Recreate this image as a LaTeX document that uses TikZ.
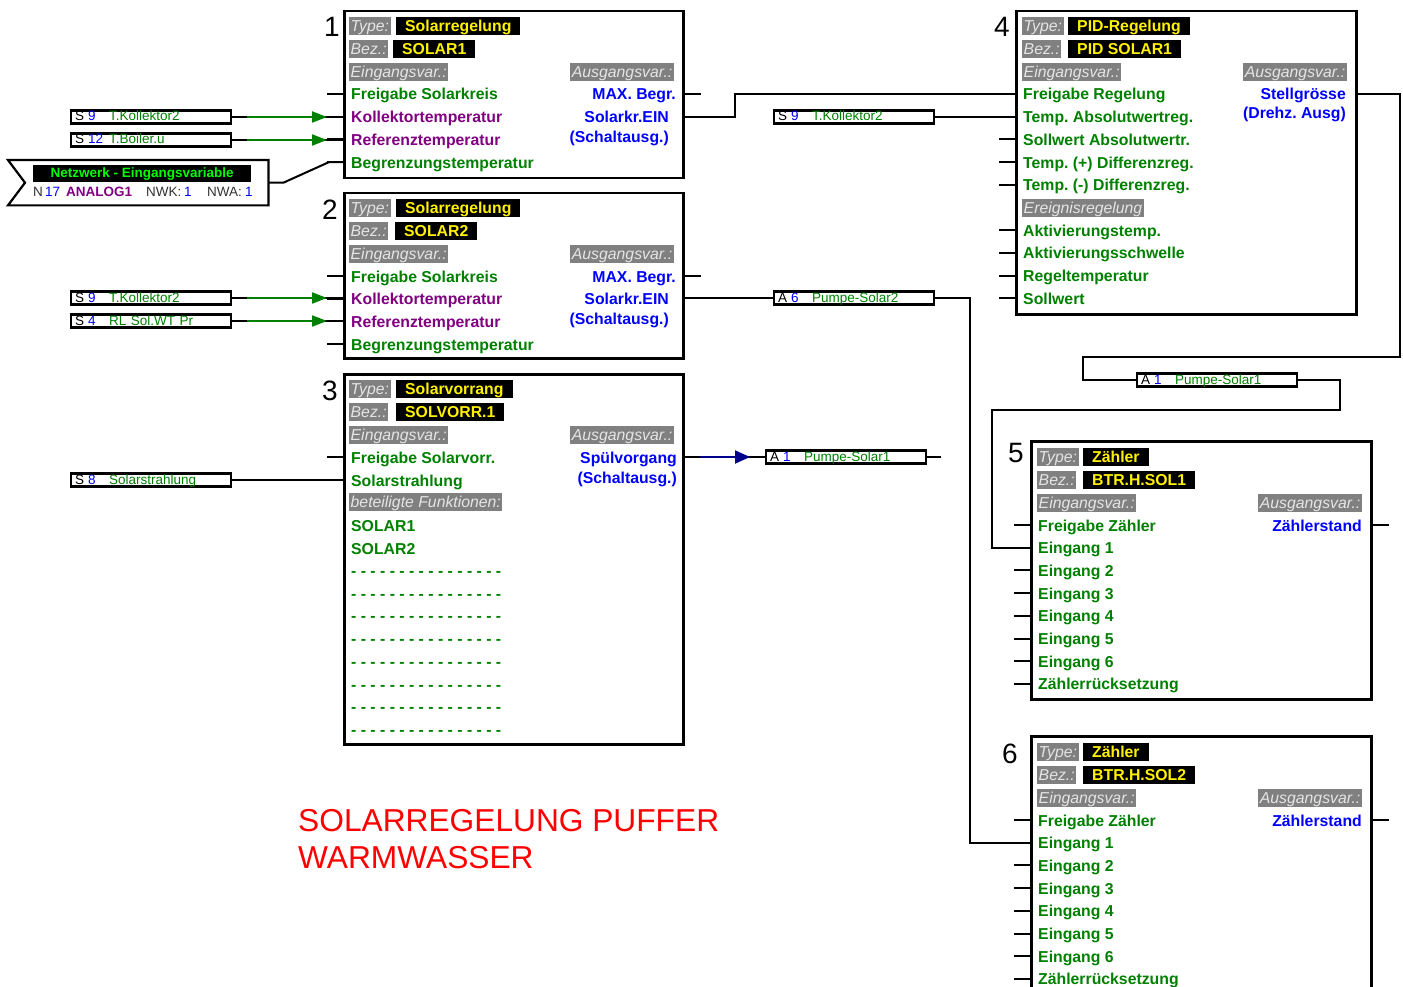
\documentclass[tikz,border=0pt]{standalone}
\usepackage{fontspec}
\setmainfont{Liberation Sans}
\usetikzlibrary{arrows.meta}
\frenchspacing

\definecolor{tgreen}{RGB}{0,128,0}
\definecolor{tpurple}{RGB}{128,0,128}
\definecolor{tblue}{RGB}{0,0,255}
\definecolor{tgray}{RGB}{128,128,128}
\definecolor{tlime}{RGB}{0,255,0}
\definecolor{tnavy}{RGB}{0,0,140}

\newcommand{\bigfont}{\fontsize{15.8}{16}\selectfont}
\newcommand{\smallfont}{\fontsize{13.5}{14}\selectfont}
% sensor / output box text: letter, number, name
\newcommand{\iobox}[3]{\makebox[13pt][l]{#1}\makebox[21pt][l]{\textcolor{tblue}{#2}}\textcolor{tgreen}{#3}}

\tikzset{
  wire/.style={line width=2pt},
  garrow/.style={line width=2pt, tgreen, -{Triangle[length=15pt,width=11pt]}},
  narrow/.style={line width=2pt, tnavy, -{Triangle[length=15pt,width=13pt]}},
  blockbox/.style={draw, line width=2.5pt, anchor=north west, minimum width=339pt, inner sep=0pt},
  gbox/.style={fill=tgray, text=white!90!black, font=\bigfont\itshape, inner xsep=1.5pt, inner ysep=0pt, text height=14.5pt, text depth=3.5pt, anchor=west},
  ybox/.style={fill=black, text=yellow, font=\bigfont\bfseries, inner xsep=9pt, inner ysep=0pt, text height=14.5pt, text depth=3.5pt, anchor=west},
  inp/.style={text=tgreen, font=\bigfont\bfseries, inner sep=0pt, text height=12pt, text depth=0pt, anchor=west},
  outp/.style={inp, text=tblue, anchor=east},
  blknum/.style={font=\fontsize{28}{28}\selectfont, inner sep=0pt, anchor=base east},
  sensor/.style={draw, line width=2.2pt, fill=white, text width=152pt, inner xsep=4pt, inner ysep=0pt, text height=10.5pt, text depth=2.5pt, align=left, anchor=west, font=\smallfont},
}

\begin{document}
\begin{tikzpicture}[x=1pt, y=-1pt]
\useasboundingbox (0,0) rectangle (1403,987);

% Block 1: Solarregelung SOLAR1
\node[blockbox, minimum height=167pt] (blk1) at (343,10) {};
\node[blknum] (n1) at (340,37) {1};
\node[gbox] (ty1) at (349,26) {Type:};
\node[ybox] (tv1) at (396,26) {Solarregelung};
\node[gbox] (bz1) at (349,49) {Bez.:};
\node[ybox] (bv1) at (393,49) {SOLAR1};
\node[gbox] (ei1) at (349,72) {Eingangsvar.:};
\node[gbox, anchor=east] (au1) at (674,72) {Ausgangsvar.:};
\foreach \t/\c [count=\i] in {Freigabe Solarkreis/tgreen, Kollektortemperatur/tpurple, Referenztemperatur/tpurple, Begrenzungstemperatur/tgreen}
  \node[inp, text=\c] (sa\i) at (351,{94+22.7*(\i-1)}) {\t};
\foreach \i in {1,...,4} \draw[wire] (blk1.west |- sa\i.west) -- ++(-16,0);
\node[outp] (sa5) at (676,94) {MAX. Begr.};
\node[outp] (sa6) at (669,117) {Solarkr.EIN};
\node[outp] (sa7) at (669,137) {(Schaltausg.)};
\draw[wire] (blk1.east |- sa5.east) -- ++(16,0);

% Block 2: Solarregelung SOLAR2
\node[blockbox, minimum height=165pt] (blk2) at (343,192) {};
\node[blknum] (n2) at (338,220) {2};
\node[gbox] (ty2) at (349,208) {Type:};
\node[ybox] (tv2) at (396,208) {Solarregelung};
\node[gbox] (bz2) at (349,231) {Bez.:};
\node[ybox] (bv2) at (395,231) {SOLAR2};
\node[gbox] (ei2) at (349,254) {Eingangsvar.:};
\node[gbox, anchor=east] (au2) at (674,254) {Ausgangsvar.:};
\foreach \t/\c [count=\i] in {Freigabe Solarkreis/tgreen, Kollektortemperatur/tpurple, Referenztemperatur/tpurple, Begrenzungstemperatur/tgreen}
  \node[inp, text=\c] (sb\i) at (351,{276+22.7*(\i-1)}) {\t};
\foreach \i in {1,...,4} \draw[wire] (blk2.west |- sb\i.west) -- ++(-16,0);
\node[outp] (sb5) at (676,276) {MAX. Begr.};
\node[outp] (sb6) at (669,298) {Solarkr.EIN};
\node[outp] (sb7) at (669,318) {(Schaltausg.)};
\draw[wire] (blk2.east |- sb5.east) -- ++(16,0);

% Block 3: Solarvorrang
\node[blockbox, minimum height=370pt] (blk3) at (343,373) {};
\node[blknum] (n3) at (338,400) {3};
\node[gbox] (ty3) at (349,389) {Type:};
\node[ybox] (tv3) at (396,389) {Solarvorrang};
\node[gbox] (bz3) at (349,412) {Bez.:};
\node[ybox] (bv3) at (396,412) {SOLVORR.1};
\node[gbox] (ei3) at (349,435) {Eingangsvar.:};
\node[gbox, anchor=east] (au3) at (674,435) {Ausgangsvar.:};
\node[inp] (sv1) at (351,457) {Freigabe Solarvorr.};
\node[inp] (sv2) at (351,480) {Solarstrahlung};
\node[gbox] (sv3) at (349,502) {beteiligte Funktionen:};
\node[inp] (sv4) at (351,525) {SOLAR1};
\node[inp] (sv5) at (351,548) {SOLAR2};
\foreach \i in {6,...,13}
  \node[inp] (sv\i) at (351,{457+22.7*(\i-1)}) {- - - - - - - - - - - - - - - -};
\draw[wire] (blk3.west |- sv1.west) -- ++(-16,0);
\node[outp] (sv14) at (677,457) {Spülvorgang};
\node[outp] (sv15) at (677,477) {(Schaltausg.)};

% Block 4: PID-Regelung
\node[blockbox, minimum width=340pt, minimum height=303pt] (blk4) at (1015,10) {};
\node[blknum] (n4) at (1010,37) {4};
\node[gbox] (ty4) at (1022,26) {Type:};
\node[ybox] (tv4) at (1068,26) {PID-Regelung};
\node[gbox] (bz4) at (1022,49) {Bez.:};
\node[ybox] (bv4) at (1068,49) {PID SOLAR1};
\node[gbox] (ei4) at (1022,72) {Eingangsvar.:};
\node[gbox, anchor=east] (au4) at (1347,72) {Ausgangsvar.:};
\foreach \t/\i in {Freigabe Regelung/1, Temp. Absolutwertreg./2, Sollwert Absolutwertr./3, Temp. (+) Differenzreg./4, Temp. (-) Differenzreg./5, Aktivierungstemp./7, Aktivierungsschwelle/8, Regeltemperatur/9, Sollwert/10}
  \node[inp] (p\i) at (1023,{94+22.7*(\i-1)}) {\t};
\node[gbox] (p6) at (1022,208) {Ereignisregelung};
\foreach \i in {3,4,5,7,8,9,10} \draw[wire] (blk4.west |- p\i.west) -- ++(-16,0);
\node[outp] (p11) at (1346,94) {Stellgrösse};
\node[outp] (p12) at (1346,113) {(Drehz. Ausg)};

% Block 5: Zaehler BTR.H.SOL1
\node[blockbox, minimum width=340pt, minimum height=258pt] (blk5) at (1030,440) {};
\node[blknum] (n5) at (1024,462) {5};
\node[gbox] (ty5) at (1037,457) {Type:};
\node[ybox] (tv5) at (1083,457) {Zähler};
\node[gbox] (bz5) at (1037,480) {Bez.:};
\node[ybox] (bv5) at (1083,480) {BTR.H.SOL1};
\node[gbox] (ei5) at (1037,503) {Eingangsvar.:};
\node[gbox, anchor=east] (au5) at (1362,503) {Ausgangsvar.:};
\foreach \t [count=\i] in {Freigabe Zähler, Eingang 1, Eingang 2, Eingang 3, Eingang 4, Eingang 5, Eingang 6, Zählerrücksetzung}
  \node[inp] (za\i) at (1038,{525+22.7*(\i-1)}) {\t};
\foreach \i in {1,3,4,5,6,7,8} \draw[wire] (blk5.west |- za\i.west) -- ++(-16,0);
\node[outp] (za9) at (1362,525) {Zählerstand};
\draw[wire] (blk5.east |- za9.east) -- ++(16,0);

% Block 6: Zaehler BTR.H.SOL2
\node[blockbox, minimum width=340pt, minimum height=270pt] (blk6) at (1030,735) {};
\node[blknum] (n6) at (1018,763) {6};
\node[gbox] (ty6) at (1037,752) {Type:};
\node[ybox] (tv6) at (1083,752) {Zähler};
\node[gbox] (bz6) at (1037,775) {Bez.:};
\node[ybox] (bv6) at (1083,775) {BTR.H.SOL2};
\node[gbox] (ei6) at (1037,798) {Eingangsvar.:};
\node[gbox, anchor=east] (au6) at (1362,798) {Ausgangsvar.:};
\foreach \t [count=\i] in {Freigabe Zähler, Eingang 1, Eingang 2, Eingang 3, Eingang 4, Eingang 5, Eingang 6, Zählerrücksetzung}
  \node[inp] (zb\i) at (1038,{820+22.7*(\i-1)}) {\t};
\foreach \i in {1,3,4,5,6,7,8} \draw[wire] (blk6.west |- zb\i.west) -- ++(-16,0);
\node[outp] (zb9) at (1362,820) {Zählerstand};
\draw[wire] (blk6.east |- zb9.east) -- ++(16,0);

% sensors and outputs
\node[sensor] (sk1) at (70,117) {\iobox{S}{9}{T.Kollektor2}};
\node[sensor] (sk2) at (70,140) {\iobox{S}{12}{T.Boiler.u}};
\node[sensor] (sk3) at (773,117) {\iobox{S}{9}{T.Kollektor2}};
\node[sensor] (sk4) at (70,298) {\iobox{S}{9}{T.Kollektor2}};
\node[sensor] (sk5) at (70,321) {\iobox{S}{4}{RL Sol.WT Pr}};
\node[sensor] (sk6) at (70,480) {\iobox{S}{8}{Solarstrahlung}};
\node[sensor] (pa6) at (773,298) {\iobox{A}{6}{Pumpe-Solar2}};
\node[sensor] (pa1) at (765,457) {\iobox{A}{1}{Pumpe-Solar1}};
\node[sensor] (pa1b) at (1136,380) {\iobox{A}{1}{Pumpe-Solar1}};

% network input
\node[minimum width=260pt, minimum height=45pt, inner sep=0pt, anchor=north west] (net) at (8,160) {};
\draw[line width=2.2pt, fill=white] (net.north west) -- (net.north east) -- (net.south east)
  -- (net.south west) -- ([xshift=17pt]net.west) -- cycle;
\node[fill=black, text=tlime, font=\smallfont\bfseries, minimum width=218pt, inner ysep=0pt,
  text height=12pt, text depth=5pt, anchor=north west] (nettitle) at (33,165) {Netzwerk - Eingangsvariable};
\node[font=\smallfont, text=black!80, inner sep=0pt, anchor=base west] (netline) at (33,197)
  {\makebox[12pt][l]{N}\makebox[21pt][l]{\textcolor{tblue}{17}}\makebox[80pt][l]{\textcolor{tpurple}{\bfseries ANALOG1}}\makebox[38pt][l]{NWK:}\makebox[23pt][l]{\textcolor{tblue}{1}}\makebox[38pt][l]{NWA:}\textcolor{tblue}{1}};

% connections
\draw[wire] (sk1.east) -- (blk1.west |- sk1.east);
\draw[garrow] ([xshift=15pt]sk1.east) -- ([xshift=-16pt]blk1.west |- sk1.east);
\draw[wire] (sk2.east) -- (blk1.west |- sk2.east);
\draw[garrow] ([xshift=15pt]sk2.east) -- ([xshift=-16pt]blk1.west |- sk2.east);
\draw[wire] (net.east) -- ++(15,0) -- ([xshift=-14pt]blk1.west |- sa4.west) -- (blk1.west |- sa4.west);
\draw[wire] (sk4.east) -- (blk2.west |- sk4.east);
\draw[garrow] ([xshift=15pt]sk4.east) -- ([xshift=-16pt]blk2.west |- sk4.east);
\draw[wire] (sk5.east) -- (blk2.west |- sk5.east);
\draw[garrow] ([xshift=15pt]sk5.east) -- ([xshift=-16pt]blk2.west |- sk5.east);
\draw[wire] (sk6.east) -- (blk3.west |- sk6.east);

\coordinate (j1) at (735,94);
\draw[wire] (blk1.east |- sa6.east) -| (j1) -- (blk4.west |- p1.west);
\draw[wire] (sk3.east) -- (blk4.west |- sk3.east);

\draw[wire] (blk2.east |- sb6.east) -- (pa6.west);
\coordinate (k5) at (970,600);
\draw[wire] (pa6.east) -| (k5) |- (blk6.west |- zb2.west);

\draw[wire] (blk3.east |- sv14.east) -- (pa1.west);
\draw[narrow] ([xshift=15pt]blk3.east |- sv14.east) -- ([xshift=-15pt]pa1.west);
\draw[wire] (pa1.east) -- ++(14,0);

\coordinate (k1) at (1400,357);
\coordinate (k2) at (1083,357);
\draw[wire] (blk4.east |- p11.east) -| (k1) -- (k2) |- (pa1b.west);
\coordinate (k3) at (1340,410);
\coordinate (k4) at (992,410);
\draw[wire] (pa1b.east) -| (k3) -- (k4) |- (blk5.west |- za2.west);

% title
\node[text=red, font=\fontsize{31.7}{37.3}\selectfont, align=left, inner sep=0pt, anchor=north west] (title) at (298,809)
  {SOLARREGELUNG PUFFER\\WARMWASSER};
\end{tikzpicture}
\end{document}
